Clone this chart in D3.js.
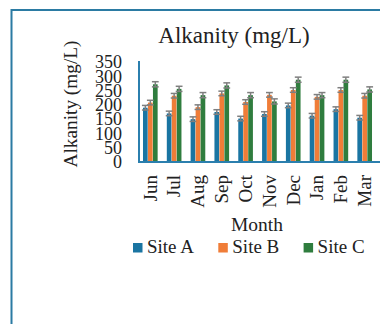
<!DOCTYPE html>
<html>
<head>
<meta charset="utf-8">
<script src="https://cdn.jsdelivr.net/npm/d3@7"></script>
<style>
body { margin: 0; background: #fff; }
svg { display: block; font-family: "Liberation Serif", "Times New Roman", serif; }
</style>
</head>
<body>
<svg id="chart" width="380" height="324"></svg>
<script>
const months = ["Jun", "Jul", "Aug", "Sep", "Oct", "Nov", "Dec", "Jan", "Feb", "Mar"];
const siteA = [190, 170, 150, 175, 152, 168, 198, 162, 185, 155];
const siteB = [208, 232, 192, 240, 210, 235, 252, 228, 252, 232];
const siteC = [272, 256, 234, 268, 234, 212, 288, 234, 288, 254];
const errA = [8, 8, 8, 8, 8, 8, 8, 8, 8, 8];
const errB = [8, 8, 8, 8, 8, 8, 8, 8, 8, 8];
const errC = [9, 9, 9, 9, 9, 9, 9, 9, 9, 9];
const yTicks = [0, 50, 100, 150, 200, 250, 300, 350];
const seriesNames = ["Site A", "Site B", "Site C"];
const colours = ["#1a75a2", "#f07d38", "#2f7d3e"];

const series = [siteA, siteB, siteC];
const errs = [errA, errB, errC];

const svg = d3.select("#chart");

// outer frame
svg.append("rect")
  .attr("x", 11.5).attr("y", 10)
  .attr("width", 420).attr("height", 400)
  .attr("fill", "none")
  .attr("stroke", "#2b7ba3")
  .attr("stroke-width", 2);

const x0 = d3.scaleBand().domain(months).range([139, 376]).paddingInner(0.36).paddingOuter(0.155);
const x1 = d3.scaleBand().domain(seriesNames).range([0, x0.bandwidth()]).padding(0.06);
const y = d3.scaleLinear().domain([0, 350]).range([162, 62]);

// title
svg.append("text")
  .attr("x", 234).attr("y", 43)
  .attr("text-anchor", "middle")
  .style("font-size", "23px")
  .attr("fill", "#222")
  .text("Alkanity (mg/L)");

// bars
const rows = [];
series.forEach((s, si) => s.forEach((v, i) => rows.push({month: months[i], site: seriesNames[si], si: si, v: v, e: errs[si][i]})));

svg.append("g").selectAll("rect")
  .data(rows)
  .join("rect")
    .attr("x", d => x0(d.month) + x1(d.site))
    .attr("y", d => y(d.v))
    .attr("width", x1.bandwidth())
    .attr("height", d => y(0) - y(d.v))
    .attr("fill", d => colours[d.si]);

// error bars
const eb = svg.append("g").attr("stroke", "#7f7f7f").attr("stroke-width", 1.5);
rows.forEach(d => {
  const cx = x0(d.month) + x1(d.site) + x1.bandwidth() / 2;
  eb.append("line").attr("x1", cx).attr("x2", cx).attr("y1", y(d.v + d.e)).attr("y2", y(d.v - d.e));
  eb.append("line").attr("x1", cx - 3.4).attr("x2", cx + 3.4).attr("y1", y(d.v + d.e)).attr("y2", y(d.v + d.e));
  eb.append("line").attr("x1", cx - 3.4).attr("x2", cx + 3.4).attr("y1", y(d.v - d.e)).attr("y2", y(d.v - d.e));
});

// axes lines
svg.append("line").attr("x1", 139).attr("x2", 139).attr("y1", 61).attr("y2", y(0))
  .attr("stroke", "#2b7fae").attr("stroke-width", 2);
svg.append("line").attr("x1", 138).attr("x2", 380).attr("y1", y(0)).attr("y2", y(0))
  .attr("stroke", "#2b7fae").attr("stroke-width", 2);

// y tick labels
const yAxis = d3.axisLeft(y).tickValues(yTicks).tickSize(0).tickPadding(0);
const yg = svg.append("g").attr("transform", "translate(122,0)").call(yAxis);
yg.select(".domain").remove();
yg.selectAll("text")
  .style("font-family", "Liberation Serif, serif")
  .style("font-size", "18px")
  .attr("fill", "#222")
  .attr("text-anchor", "end");

// y label
svg.append("text")
  .attr("transform", "translate(77,104) rotate(-90)")
  .attr("text-anchor", "middle")
  .style("font-size", "19.3px")
  .attr("fill", "#222")
  .text("Alkanity (mg/L)");

// x tick labels
const xg = svg.append("g").attr("transform", "translate(0,175)")
  .call(d3.axisBottom(x0).tickSize(0).tickPadding(0));
xg.select(".domain").remove();
xg.selectAll("text")
  .style("font-family", "Liberation Serif, serif")
  .style("font-size", "19px")
  .attr("fill", "#222")
  .attr("text-anchor", "end")
  .attr("transform", "rotate(-90)")
  .attr("x", 0).attr("y", 0).attr("dy", "0.33em");

// x title
svg.append("text")
  .attr("x", 257).attr("y", 231)
  .attr("text-anchor", "middle")
  .style("font-size", "19.5px")
  .attr("fill", "#222")
  .text("Month");

// legend
const lg = svg.append("g").selectAll("g")
  .data(seriesNames)
  .join("g")
    .attr("transform", (d, i) => "translate(" + (133 + i * 85.3) + ",243)");
lg.append("rect").attr("width", 9.5).attr("height", 9.5).attr("fill", (d, i) => colours[i]);
lg.append("text").attr("x", 14).attr("y", 9.7)
  .style("font-size", "19px")
  .attr("fill", "#222")
  .text(d => d);
</script>
</body>
</html>
